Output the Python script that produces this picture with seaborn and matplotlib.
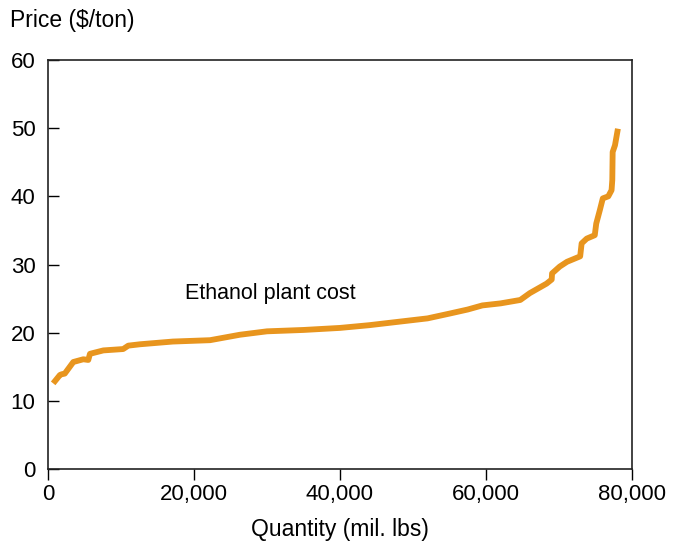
import numpy as np
import pandas as pd
import matplotlib.pyplot as plt
import seaborn as sns

# Supply curve points

quantity = [960, 1640, 1880, 2300, 3470, 4840, 5520, 5750, 7580, 10300, 11000,
            12600, 17100, 22200, 26300, 30000, 35000, 40000, 44000, 48000, 52000,
            55000, 57500, 59500, 62000, 64700, 66000, 68300, 69000, 69050, 70100,
            71100, 72900, 73100, 73800, 74900, 75100, 75600, 76000, 76750, 77200,
            77300, 77350, 77670, 78000]
price = [12.9, 13.8, 13.9, 14.0, 15.7, 16.1, 16.0, 16.9, 17.4, 17.6, 18.1,
         18.3, 18.7, 18.9, 19.7, 20.2, 20.4, 20.7, 21.1, 21.6, 22.1,
         22.8, 23.4, 24.0, 24.3, 24.8, 25.8, 27.2, 27.8, 28.7, 29.7,
         30.4, 31.2, 33.1, 33.8, 34.3, 36.0, 38.0, 39.7, 40.0, 40.9,
         42.4, 46.5, 47.5, 49.5]

df = pd.DataFrame({'quantity': quantity, 'price': price})

plt.rcParams['font.family'] = ['Liberation Sans', 'DejaVu Sans']

fig = plt.figure(figsize=(6.75, 5.45), dpi=100)
ax = fig.add_axes([0.0711, 0.1394, 0.8652, 0.7505])

sns.lineplot(data=df, x='quantity', y='price', ax=ax, color='#E8951E',
             linewidth=4.2, estimator=None, sort=False)

ax.set_xlim(0, 80000)
ax.set_ylim(0, 60)
ax.set_xticks(np.arange(0, 80001, 20000))
ax.set_xticklabels(['0', '20,000', '40,000', '60,000', '80,000'])
ax.set_yticks(np.arange(0, 61, 10))
ax.tick_params(axis='x', direction='out', length=8, width=1, labelsize=16, pad=3)
ax.tick_params(axis='y', direction='in', length=8, width=1, labelsize=16, pad=9)
for s in ax.spines.values():
    s.set_linewidth(1.2)
    s.set_color('#222222')

ax.set_xlabel('Quantity (mil. lbs)', fontsize=16.5, labelpad=9)
ax.set_ylabel('')
fig.text(10 / 675, 1 - 20 / 545, 'Price ($/ton)', fontsize=16.5, va='center', ha='left')
ax.text(18770, 25.8, 'Ethanol plant cost', fontsize=15.5, va='center', ha='left')

plt.savefig('out.png', dpi=100)
